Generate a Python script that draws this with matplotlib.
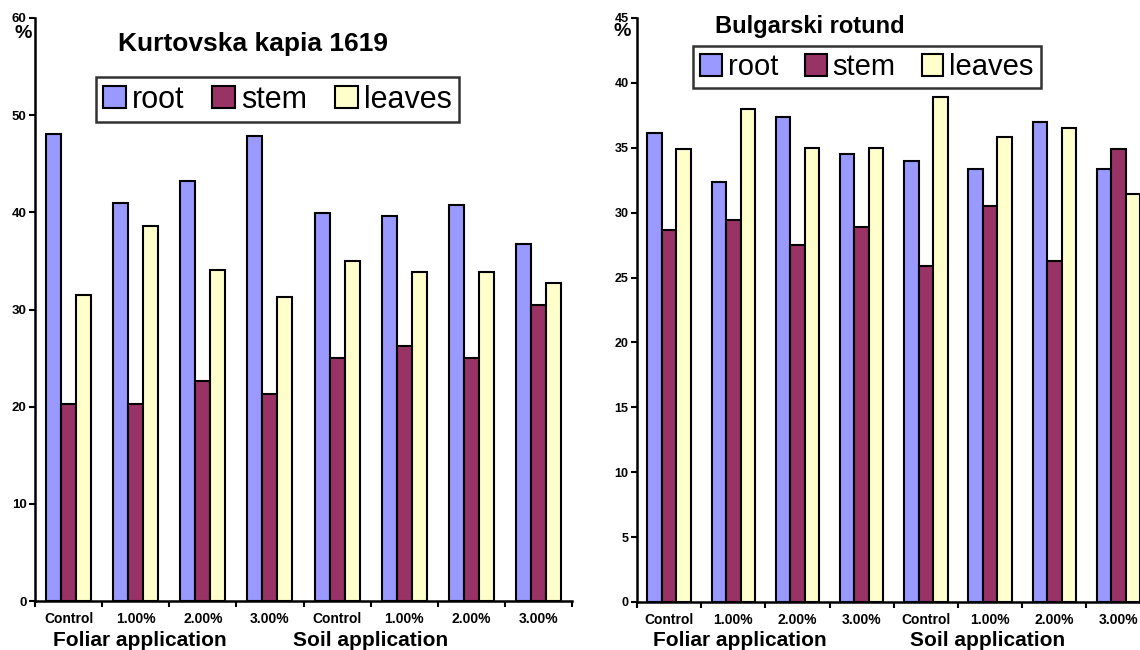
import matplotlib
matplotlib.use("Agg")
import matplotlib.pyplot as plt
import numpy as np
from matplotlib.patches import Patch

plt.rcParams['font.family'] = ['Liberation Sans', 'DejaVu Sans']

categories = ["Control", "1.00%", "2.00%", "3.00%", "Control", "1.00%", "2.00%", "3.00%"]
groups = ["Foliar application", "Soil application"]
series = ["root", "stem", "leaves"]

kurt_root = [48.1, 41.0, 43.2, 47.9, 39.9, 39.6, 40.8, 36.7]
kurt_stem = [20.3, 20.3, 22.6, 21.3, 25.0, 26.2, 25.0, 30.5]
kurt_leaves = [31.5, 38.6, 34.1, 31.3, 35.0, 33.9, 33.9, 32.7]

bulg_root = [36.15, 32.4, 37.4, 34.5, 34.0, 33.4, 37.0, 33.4]
bulg_stem = [28.7, 29.4, 27.5, 28.9, 25.9, 30.5, 26.3, 34.9]
bulg_leaves = [34.9, 38.0, 35.0, 35.0, 38.9, 35.8, 36.5, 31.4]

colors = ["#9999FF", "#993366", "#FFFFCC"]

W, H = 1140, 650
fig = plt.figure(figsize=(W / 100, H / 100), dpi=100)


def px_axes(x0, x1, ytop, ybot):
    return fig.add_axes([x0 / W, (H - ybot) / H, (x1 - x0) / W, (ybot - ytop) / H])


def draw(ax, data, ymax, ystep, bw, ytick_fs):
    n = len(categories)
    x = np.arange(n) + 0.5
    for k, (vals, col) in enumerate(zip(data, colors)):
        ax.bar(x + (k - 1) * bw, vals, width=bw, color=col, edgecolor="black",
               linewidth=1.5, zorder=3)
    ax.set_xlim(0, n)
    ax.set_ylim(0, ymax)
    for s in ["top", "right"]:
        ax.spines[s].set_visible(False)
    for s in ["left", "bottom"]:
        ax.spines[s].set_linewidth(1.8)
        ax.spines[s].set_color("black")
    ax.set_yticks(np.arange(0, ymax + 0.1, ystep))
    ax.set_yticklabels([f"{int(v)}" for v in np.arange(0, ymax + 0.1, ystep)],
                       fontsize=ytick_fs, fontweight="bold")
    ax.tick_params(axis="y", direction="out", length=4, width=1.5, pad=2)
    ax.set_xticks(np.arange(0, n + 1))
    ax.set_xticklabels([])
    ax.tick_params(axis="x", which="major", direction="out", length=4, width=1.5)
    ax.set_xticks(x, minor=True)
    ax.set_xticklabels(categories, minor=True, fontsize=10, fontweight="bold")
    ax.tick_params(axis="x", which="minor", length=0, pad=8)
    ax.set_facecolor("none")


# Left chart
axL = px_axes(35, 572, 18, 601)
draw(axL, [kurt_root, kurt_stem, kurt_leaves], 60, 10, 0.224, 9.5)
fig.text(140 / W, 1 - 641 / H, groups[0], ha="center", va="center",
         fontsize=15, fontweight="bold")
fig.text(371 / W, 1 - 641 / H, groups[1], ha="center", va="center",
         fontsize=15, fontweight="bold")
fig.text(253 / W, 1 - 44 / H, "Kurtovska kapia 1619", ha="center", va="center",
         fontsize=19, fontweight="bold")
fig.text(23 / W, 1 - 33 / H, "%", ha="center", va="center",
         fontsize=14, fontweight="bold")

# Right chart
axR = px_axes(637, 637 + 8 * 64.2, 18, 602)
draw(axR, [bulg_root, bulg_stem, bulg_leaves], 45, 5, 0.226, 9)
fig.text(740 / W, 1 - 641 / H, groups[0], ha="center", va="center",
         fontsize=15, fontweight="bold")
fig.text(988 / W, 1 - 641 / H, groups[1], ha="center", va="center",
         fontsize=15, fontweight="bold")
fig.text(810 / W, 1 - 27 / H, "Bulgarski rotund", ha="center", va="center",
         fontsize=17, fontweight="bold")
fig.text(622 / W, 1 - 31 / H, "%", ha="center", va="center",
         fontsize=14, fontweight="bold")

handles = [Patch(facecolor=c, edgecolor="black", linewidth=1.5) for c in colors]


def add_legend(x0, x1, ytop, ybot, fs):
    leg = fig.legend(handles, series, loc="center",
                     bbox_to_anchor=((x0 + x1) / 2 / W, 1 - (ytop + ybot) / 2 / H),
                     ncol=3, fontsize=fs, frameon=True, fancybox=False,
                     handlelength=0.75, handleheight=0.75, handletextpad=0.2,
                     columnspacing=0.9, borderpad=0.25, borderaxespad=0)
    fr = leg.get_frame()
    fr.set_edgecolor("black")
    fr.set_linewidth(1.8)
    return leg


add_legend(88, 467, 77, 122, 22)
add_legend(691, 1043, 44, 90, 21)

fig.savefig("out.png", dpi=100)
